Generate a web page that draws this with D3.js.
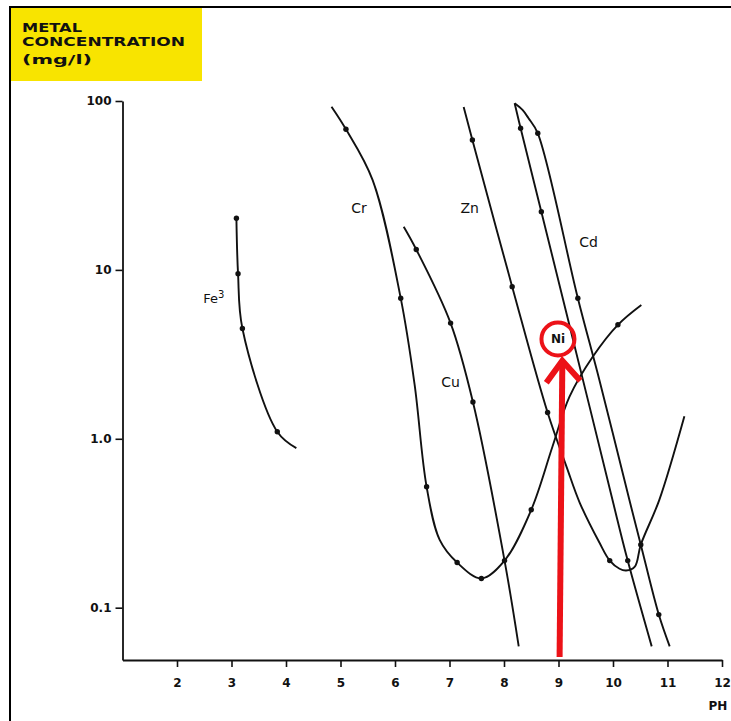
<!DOCTYPE html>
<html>
<head>
<meta charset="utf-8">
<script src="https://cdn.jsdelivr.net/npm/d3@7"></script>
<style>
  body { margin: 0; background: #fff; }
  text { font-family: "DejaVu Sans", sans-serif; }
</style>
</head>
<body>
<svg id="chart" width="731" height="721"></svg>
<script>
// ---- axis ticks ----
const phTicks = [2, 3, 4, 5, 6, 7, 8, 9, 10, 11, 12];
const concTicks = [0.1, 1, 10, 100];
const concTickLabels = ["0.1", "1.0", "10", "100"];

// ---- metal hydroxide solubility curves (pH, mg/l) ----
const fePH   = [3.09, 3.12, 3.20, 3.84, 4.19];
const feConc = [20.2, 9.5, 4.5, 1.1, 0.88];
const feDots = [0, 1, 2, 3];

const crPH   = [4.835, 5.10, 5.59, 6.105, 6.36, 6.58, 6.82, 7.14, 7.585, 8.01, 8.50, 8.89, 9.20, 9.625, 10.09, 10.52];
const crConc = [92.5, 68, 34, 6.8, 2.09, 0.52, 0.252, 0.185, 0.149, 0.19, 0.38, 0.90, 1.77, 3.05, 4.73, 6.2];
const crDots = [1, 3, 5, 7, 8, 9, 10, 14];

const cuPH   = [6.16, 6.39, 7.02, 7.43, 8.01, 8.27];
const cuConc = [18, 13.2, 4.84, 1.65, 0.19, 0.059];
const cuDots = [1, 2, 3];

const znPH   = [7.26, 7.42, 8.15, 8.80, 9.15, 9.39, 9.75, 9.94, 10.12, 10.24, 10.40, 10.51, 10.85, 11.31];
const znConc = [92, 58.8, 7.96, 1.43, 0.68, 0.418, 0.243, 0.19, 0.170, 0.166, 0.175, 0.236, 0.435, 1.36];
const znDots = [1, 2, 3, 7];

const niPH   = [8.195, 8.305, 8.685, 9.57, 9.99, 10.27, 10.71];
const niConc = [96.9, 68.9, 22.1, 1.55, 0.435, 0.19, 0.059];
const niDots = [1, 2, 5];

const cdPH   = [8.195, 8.34, 8.45, 8.62, 9.355, 9.75, 10.30, 10.51, 10.84, 11.04];
const cdConc = [96.9, 88.5, 79, 64.4, 6.8, 2.23, 0.435, 0.236, 0.091, 0.059];
const cdDots = [3, 4, 7, 8];

// curve labels: text, pH, concentration
const labelText = ["Cr", "Zn", "Cu", "Cd"];
const labelPH   = [5.34, 7.37, 7.02, 9.55];
const labelConc = [23.3, 23.1, 2.17, 14.7];

const series = [
  { ph: fePH, conc: feConc, dots: feDots },
  { ph: crPH, conc: crConc, dots: crDots },
  { ph: cuPH, conc: cuConc, dots: cuDots },
  { ph: znPH, conc: znConc, dots: znDots },
  { ph: niPH, conc: niConc, dots: niDots },
  { ph: cdPH, conc: cdConc, dots: cdDots }
];

const svg = d3.select("#chart");

// page frame
svg.append("line").attr("x1", 9).attr("x2", 731).attr("y1", 7).attr("y2", 7)
  .attr("stroke", "#000").attr("stroke-width", 2);
svg.append("line").attr("x1", 10).attr("x2", 10).attr("y1", 6).attr("y2", 721)
  .attr("stroke", "#000").attr("stroke-width", 2);

// y-axis title on a yellow patch
svg.append("rect").attr("x", 11).attr("y", 8).attr("width", 191).attr("height", 73)
  .attr("fill", "#f8e400");
const titleLines = ["METAL", "CONCENTRATION", "(mg/l)"];
const titleLen = [60, 163, 70];
const titleBase = [32, 46, 64];
svg.selectAll("text.title").data(titleLines).join("text")
  .attr("class", "title")
  .attr("x", 22)
  .attr("y", (d, i) => titleBase[i])
  .attr("textLength", (d, i) => titleLen[i])
  .attr("lengthAdjust", "spacingAndGlyphs")
  .attr("font-size", 13)
  .attr("font-weight", "bold")
  .attr("fill", "#111")
  .text(d => d);

// scales
const x = d3.scaleLinear().domain([1, 12]).range([122.5, 722]);
const y = d3.scaleLog().domain([0.049, 100]).range([660, 101]);

// axes
const xAxis = d3.axisBottom(x).tickValues(phTicks).tickFormat(d3.format("d"))
  .tickSize(7).tickSizeOuter(0).tickPadding(11);
const gx = svg.append("g").attr("transform", "translate(0,660)").call(xAxis);
gx.select(".domain").attr("stroke", "#111").attr("stroke-width", 1.8);
gx.selectAll(".tick line").attr("stroke", "#111").attr("stroke-width", 1.6);
gx.selectAll(".tick text").attr("fill", "#111").attr("font-size", 12)
  .attr("font-weight", "bold").style("font-family", "DejaVu Sans, sans-serif");

const yAxis = d3.axisLeft(y).tickValues(concTicks).tickFormat((d, i) => concTickLabels[i])
  .tickSize(7).tickSizeOuter(0).tickPadding(4);
const gy = svg.append("g").attr("transform", "translate(122.5,0)").call(yAxis);
gy.select(".domain").attr("stroke", "#111").attr("stroke-width", 1.8);
gy.selectAll(".tick line").attr("stroke", "#111").attr("stroke-width", 1.6);
gy.selectAll(".tick text").attr("fill", "#111").attr("font-size", 12)
  .attr("font-weight", "bold").style("font-family", "DejaVu Sans, sans-serif");

svg.append("text").attr("x", 718).attr("y", 710).attr("text-anchor", "middle")
  .attr("font-size", 12).attr("font-weight", "bold").attr("fill", "#111").text("PH");

// curves
const line = d3.line()
  .x(d => x(d[0]))
  .y(d => y(d[1]))
  .curve(d3.curveCatmullRom.alpha(0.5));

const gCurves = svg.append("g");
series.forEach(s => {
  const pts = s.ph.map((p, i) => [p, s.conc[i]]);
  gCurves.append("path").attr("d", line(pts))
    .attr("fill", "none").attr("stroke", "#111").attr("stroke-width", 1.9);
  gCurves.selectAll(null).data(s.dots.map(i => pts[i])).join("circle")
    .attr("cx", d => x(d[0])).attr("cy", d => y(d[1])).attr("r", 2.7)
    .attr("fill", "#111");
});

// curve labels
svg.selectAll("text.lbl").data(labelText).join("text")
  .attr("class", "lbl")
  .attr("x", (d, i) => x(labelPH[i]))
  .attr("y", (d, i) => y(labelConc[i]))
  .attr("text-anchor", "middle")
  .attr("dominant-baseline", "central")
  .attr("font-size", 14)
  .attr("fill", "#111")
  .text(d => d);

const fe = svg.append("text").attr("x", x(2.48)).attr("y", y(6.38))
  .attr("font-size", 13).attr("fill", "#111").text("Fe");
fe.append("tspan").attr("dy", -5).attr("font-size", 10).text("3");

// highlighted nickel curve
const red = "#ec1218";
const tipPH = 9.07, tipConc = 2.9;
svg.append("line")
  .attr("x1", x(9.02)).attr("y1", y(0.051))
  .attr("x2", x(tipPH)).attr("y2", y(tipConc) + 4)
  .attr("stroke", red).attr("stroke-width", 6);
const tx = x(tipPH), ty = y(tipConc);
svg.append("path")
  .attr("d", `M${tx - 16},${ty + 22} L${tx},${ty} L${tx + 18},${ty + 20}`)
  .attr("fill", "none").attr("stroke", red).attr("stroke-width", 6)
  .attr("stroke-linejoin", "miter");
svg.append("circle").attr("cx", x(8.99)).attr("cy", y(3.9)).attr("r", 16.5)
  .attr("fill", "none").attr("stroke", red).attr("stroke-width", 4);
svg.append("text").attr("x", x(8.99)).attr("y", y(3.9))
  .attr("text-anchor", "middle").attr("dominant-baseline", "central")
  .attr("font-size", 12).attr("font-weight", "bold").attr("fill", "#111").text("Ni");
</script>
</body>
</html>
